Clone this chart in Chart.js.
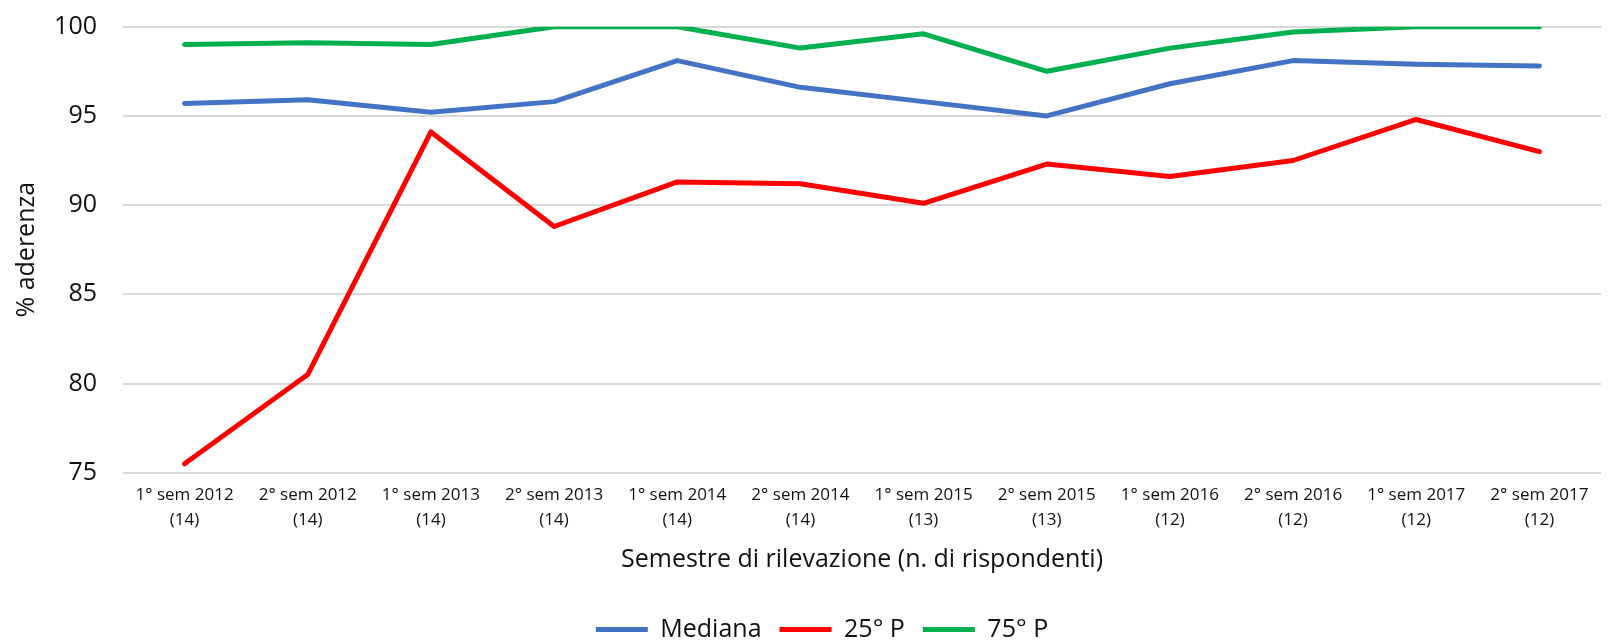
<!DOCTYPE html>
<html>
<head>
<meta charset="utf-8">
<script src="https://cdn.jsdelivr.net/npm/chart.js@4"></script>
<style>
  html, body { margin: 0; padding: 0; background: #fff; }
  #wrap { width: 1610px; height: 644px; }
</style>
</head>
<body>
<div id="wrap"><canvas id="aderenzaChart" width="1610" height="644"></canvas></div>
<script>
// Semestri e numero di rispondenti
const semestri = ["1° sem 2012", "2° sem 2012", "1° sem 2013", "2° sem 2013", "1° sem 2014", "2° sem 2014",
                  "1° sem 2015", "2° sem 2015", "1° sem 2016", "2° sem 2016", "1° sem 2017", "2° sem 2017"];
const rispondenti = [14, 14, 14, 14, 14, 14, 13, 13, 12, 12, 12, 12];

// Serie
const mediana = [95.7, 95.9, 95.2, 95.8, 98.1, 96.6, 95.8, 95.0, 96.8, 98.1, 97.9, 97.8];
const p25 = [75.5, 80.5, 94.1, 88.8, 91.3, 91.2, 90.1, 92.3, 91.6, 92.5, 94.8, 93.0];
const p75 = [99.0, 99.1, 99.0, 100, 100, 98.8, 99.6, 97.5, 98.8, 99.7, 100, 100];

// Asse y
const yMin = 75, yMax = 100, yStep = 5;

const labels = semestri.map((s, i) => [s, "(" + rispondenti[i] + ")"]);
const font = "'Open Sans', 'Noto Sans', sans-serif";
const textColor = "#111";

function serie(label, data, color) {
    return {
        label: label,
        data: data,
        borderColor: color,
        backgroundColor: color,
        borderWidth: 5,
        borderCapStyle: "round",
        borderJoinStyle: "round",
        pointRadius: 0,
        pointStyle: "line",
        tension: 0,
        fill: false
    };
}

// sposta un po' la legenda verso destra, come nell'originale
const legendShift = {
    id: "legendShift",
    afterLayout(chart) {
        if (chart.legend) chart.legend.left += 43;
    }
};

new Chart(document.getElementById("aderenzaChart"), {
    type: "line",
    data: {
        labels: labels,
        datasets: [
            serie("Mediana", mediana, "#4472C4"),
            serie("25° P", p25, "#FF0000"),
            serie("75° P", p75, "#00B050")
        ]
    },
    plugins: [legendShift],
    options: {
        responsive: false,
        animation: false,
        layout: { padding: { top: 26.7, right: 9, left: 0, bottom: -8 } },
        plugins: {
            tooltip: { enabled: false },
            legend: {
                position: "bottom",
                labels: {
                    usePointStyle: true,
                    pointStyleWidth: 52,
                    padding: 18,
                    color: textColor,
                    font: { family: font, size: 25 }
                }
            }
        },
        scales: {
            x: {
                offset: true,
                grid: { display: false, drawTicks: false },
                border: { display: false },
                ticks: {
                    color: textColor,
                    font: { family: font, size: 17, lineHeight: 25 / 17 },
                    padding: 10,
                    maxRotation: 0,
                    autoSkip: false
                },
                title: {
                    display: true,
                    text: "Semestre di rilevazione (n. di rispondenti)",
                    color: textColor,
                    font: { family: font, size: 25 },
                    padding: { top: 0, bottom: 24 }
                },
                afterFit: (s) => { s.height = 126.3; }
            },
            y: {
                min: yMin,
                max: yMax,
                grid: { color: "#d9d9d9", lineWidth: 2, drawTicks: false },
                border: { display: false },
                ticks: {
                    stepSize: yStep,
                    color: textColor,
                    font: { family: font, size: 25 },
                    padding: 26
                },
                title: {
                    display: true,
                    text: "% aderenza",
                    color: textColor,
                    font: { family: font, size: 25 },
                    padding: { top: 12, bottom: 0 }
                },
                afterFit: (s) => {
                    s.width = 123;
                    s.paddingTop = 0;
                    s.paddingBottom = 0;
                }
            }
        }
    }
});
</script>
</body>
</html>
